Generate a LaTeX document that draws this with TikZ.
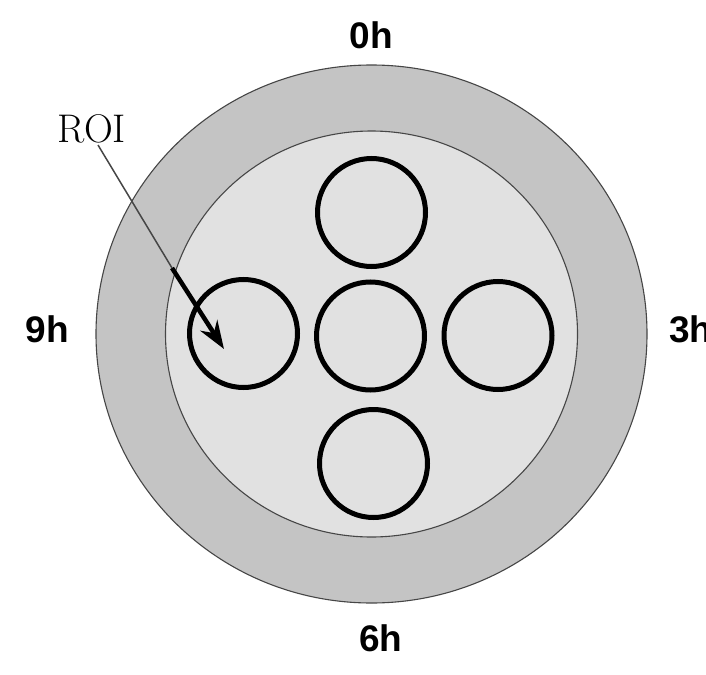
\documentclass[tikz,border=0pt]{standalone}
\usepackage{fontspec}
\newfontfamily\labfont{Liberation Sans}
\usetikzlibrary{arrows.meta}
\definecolor{ringgray}{RGB}{196,196,196}
\definecolor{innergray}{RGB}{225,225,225}
\definecolor{edgegray}{RGB}{70,70,70}
\tikzset{
  roi/.style={draw=black, line width=5pt, circle, minimum size=108pt, inner sep=0pt},
  hourlab/.style={font=\labfont\bfseries\fontsize{37}{40}\selectfont, inner sep=0pt},
  bigedge/.style={draw=edgegray, line width=1.1pt},
}
\begin{document}
\begin{tikzpicture}[x=1pt,y=-1pt]
\useasboundingbox (0,0) rectangle (706,674);
\fill[white] (0,0) rectangle (706,674);
\coordinate (ctr) at (371.5,334);
\draw[bigedge, fill=ringgray] (ctr) ellipse (275.5 and 269);
\draw[bigedge, fill=innergray] (ctr) ellipse (206 and 203);
\node[roi] (top) at (371.5,212.5) {};
\node[roi] (left) at (243.5,333.5) {};
\node[roi] (mid) at (370.5,336) {};
\node[roi] (right) at (498,335.5) {};
\node[roi] (bottom) at (373.5,463.5) {};
\node[hourlab] (h0) at (371.5,35) {0h};
\node[hourlab] (h9) at (47.5,329) {9h};
\node[hourlab, anchor=west] (h3) at (669,329) {3h};
\node[hourlab] (h6) at (381,638) {6h};
\node[font=\fontsize{40}{44}\selectfont, inner sep=0pt] (roitext) at (92,129) {ROI};
\coordinate (a0) at (98,145);
\coordinate (a1) at (172,268);
\coordinate (a2) at (224,349);
\draw[edgegray, line width=1.5pt] (a0) -- (a1);
\draw[black, line width=4.5pt, -{Stealth[length=28pt,width=20pt]}] (a1) -- (a2);
\end{tikzpicture}
\end{document}
